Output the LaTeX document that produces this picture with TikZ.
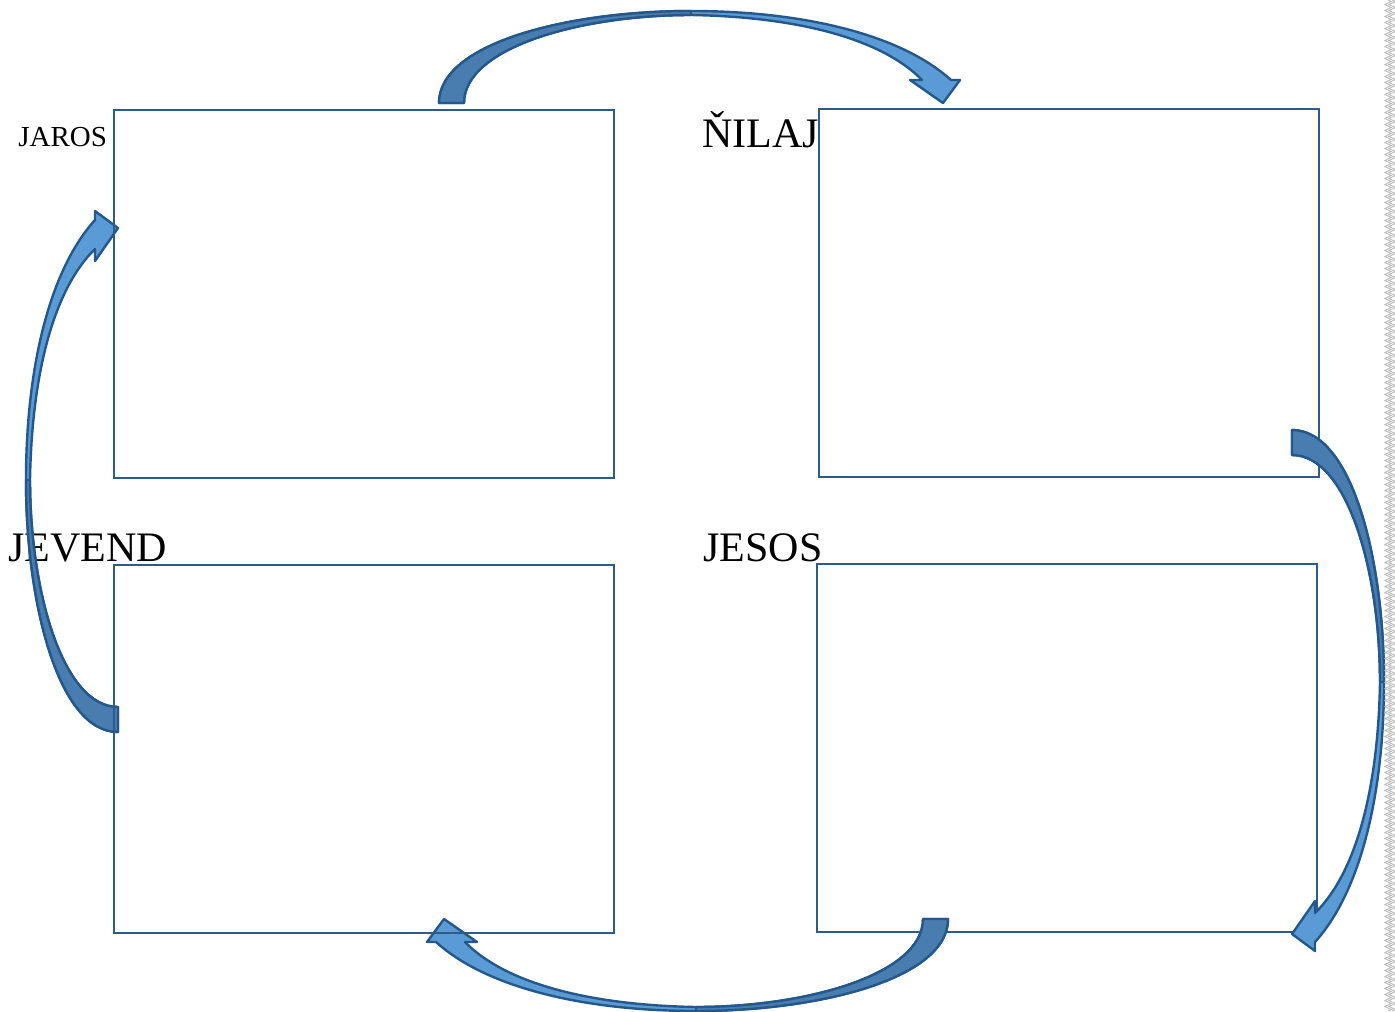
\documentclass[tikz,border=0pt]{standalone}
\usepackage{fontspec}
\setmainfont{Liberation Serif}
\usetikzlibrary{decorations.pathmorphing}

\definecolor{boxline}{HTML}{2F5B8A}
\definecolor{arrowline}{HTML}{24588C}
\definecolor{arrowfront}{HTML}{5B9BD5}
\definecolor{arrowback}{HTML}{4A7DAF}

\tikzset{
  box/.style={draw=boxline, line width=1pt, minimum width=250pt, minimum height=184pt,
    anchor=north west, inner sep=0pt},
  boxname/.style={anchor=base west, inner sep=0pt, font=\fontsize{21}{25}\selectfont},
  arrowshape/.style={draw=arrowline, line width=1.2pt, line join=round}
}

\begin{document}
\begin{tikzpicture}[x=0.5pt, y=-0.5pt]
  \useasboundingbox (0,0) rectangle (1395,1011);
  % boxes on the right
  \node[box] (nilaj) at (818,108) {};
  \node[box] (jesos) at (816,563) {};
  % titles
  \node[boxname, font=\fontsize{14.5}{17}\selectfont] (jarostxt) at (18,146) {JAROS};
  \node[boxname] (nilajtxt) at (702,147) {ŇILAJ};
  \node[boxname] (jevendtxt) at (8,561) {JEVEND};
  \node[boxname] (jesostxt) at (703,561) {JESOS};
  % curved arrows, one shape turned four ways
  \foreach \sx/\sy/\rot in {439/103/0, 1292/430/-90, 948/919/180, 118/732/90} {
    \begin{scope}[shift={(\sx,\sy)}, rotate=\rot]
      \draw[arrowshape, fill=arrowfront] (0,0) .. controls (0,-60) and (130,-92) .. (252,-92)
        .. controls (360,-92) and (460,-70) .. (512,-23) -- (521,-23) -- (504,0) -- (471,-23) -- (483,-23)
        .. controls (445,-62) and (365,-86) .. (252,-88)
        .. controls (140,-88) and (25,-55) .. (25,0) -- cycle;
      \draw[arrowshape, fill=arrowback] (0,0) .. controls (0,-60) and (130,-92) .. (252,-92)
        -- (252,-88) .. controls (140,-88) and (25,-55) .. (25,0) -- cycle;
    \end{scope}
  }
  % boxes on the left
  \node[box] (jaros) at (113,109) {};
  \node[box] (jevend) at (113,564) {};
  % torn page edge
  \foreach \x in {1388,1392}
    \draw[gray!55, line width=0.45pt, decorate, decoration={zigzag, segment length=3pt, amplitude=1.6pt}] (\x,0) -- (\x,1011);
\end{tikzpicture}
\end{document}
